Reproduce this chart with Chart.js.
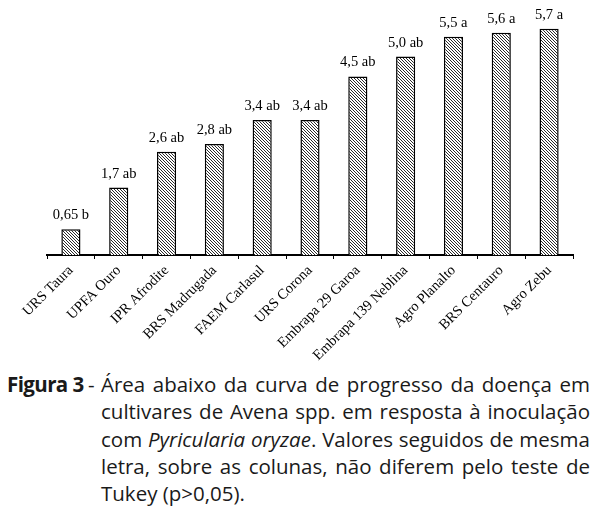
<!DOCTYPE html>
<html>
<head>
<meta charset="utf-8">
<script src="https://cdn.jsdelivr.net/npm/chart.js@4.4.0/dist/chart.umd.min.js"></script>
<style>
  body { margin: 0; background: #fff; width: 603px; height: 516px; overflow: hidden; position: relative; }
  #chart { position: absolute; left: 0; top: 0; }
  #caption { position: absolute; left: 0; top: 371px; width: 603px; font-family: "Open Sans"; font-size: 20.5px; line-height: 27.3px; color: #1a1a1a; }
  #caption .tag { position: absolute; left: 7px; top: 0; font-weight: bold; letter-spacing: -0.6px; }
  #caption .dash { position: absolute; left: 88px; top: 0; }
  #caption .body { position: absolute; left: 101px; top: 0; width: 489px; }
  #caption .line { display: block; text-align: justify; text-align-last: justify; }
  #caption .last { display: block; text-align: left; }
</style>
</head>
<body>
<canvas id="chart" width="603" height="370"></canvas>
<div id="caption">
  <span class="tag">Figura 3</span><span class="dash">-</span>
  <div class="body">
    <span class="line">Área abaixo da curva de progresso da doença em</span>
    <span class="line">cultivares de Avena spp. em resposta à inoculação</span>
    <span class="line">com <i>Pyricularia oryzae</i>. Valores seguidos de mesma</span>
    <span class="line">letra, sobre as colunas, não diferem pelo teste de</span>
    <span class="last">Tukey (p&gt;0,05).</span>
  </div>
</div>
<script>
const cultivars = ["URS Taura", "UPFA Ouro", "IPR Afrodite", "BRS Madrugada", "FAEM Carlasul", "URS Corona",
  "Embrapa 29 Garoa", "Embrapa 139 Neblina", "Agro Planalto", "BRS Centauro", "Agro Zebu"];
const audpc = [0.65, 1.7, 2.6, 2.8, 3.4, 3.4, 4.5, 5.0, 5.5, 5.6, 5.7];
const letters = ["b", "ab", "ab", "ab", "ab", "ab", "ab", "ab", "a", "a", "a"];

function fmt(v) {
  const oneDec = Math.abs(Math.round(v * 10) - v * 10) < 1e-9;
  return v.toFixed(oneDec ? 1 : 2).replace(".", ",");
}

// diagonal hatch fill
function hatch() {
  const c = document.createElement("canvas");
  c.width = 3; c.height = 3;
  const g = c.getContext("2d");
  g.fillStyle = "#fff";
  g.fillRect(0, 0, 3, 3);
  g.fillStyle = "#2a2a2a";
  for (let i = 0; i < 3; i++) g.fillRect(i, i, 1, 1);
  return g.createPattern(c, "repeat");
}

const barLabels = {
  id: "barLabels",
  afterDatasetsDraw(chart) {
    const ctx = chart.ctx;
    const meta = chart.getDatasetMeta(0);
    ctx.save();
    ctx.font = "14.5px 'Liberation Serif'";
    ctx.fillStyle = "#000";
    ctx.textAlign = "center";
    ctx.textBaseline = "alphabetic";
    meta.data.forEach((bar, i) => {
      ctx.fillText(fmt(audpc[i]) + " " + letters[i], bar.x, bar.y - 10);
    });
    ctx.restore();
  }
};

new Chart(document.getElementById("chart"), {
  type: "bar",
  data: {
    labels: cultivars,
    datasets: [{
      data: audpc,
      backgroundColor: hatch(),
      borderColor: "#000",
      borderWidth: 1.5,
      barPercentage: 0.4,
      categoryPercentage: 1
    }]
  },
  options: {
    responsive: false,
    animation: false,
    layout: { padding: { left: 47, right: 30, top: 1, bottom: 0 } },
    plugins: { legend: { display: false }, tooltip: { enabled: false } },
    scales: {
      y: { display: false, min: 0, max: 6.4 },
      x: {
        afterFit(scale) { scale.height = 115; },
        border: { display: true, color: "#000", width: 2 },
        grid: { display: true, drawOnChartArea: false, drawTicks: true, tickLength: 4, color: "#000", lineWidth: 1, offset: true },
        ticks: {
          autoSkip: false, minRotation: 45, maxRotation: 45,
          color: "#000",
          font: { family: "Liberation Serif", size: 14.5 }
        }
      }
    }
  },
  plugins: [barLabels]
});
</script>
</body>
</html>
